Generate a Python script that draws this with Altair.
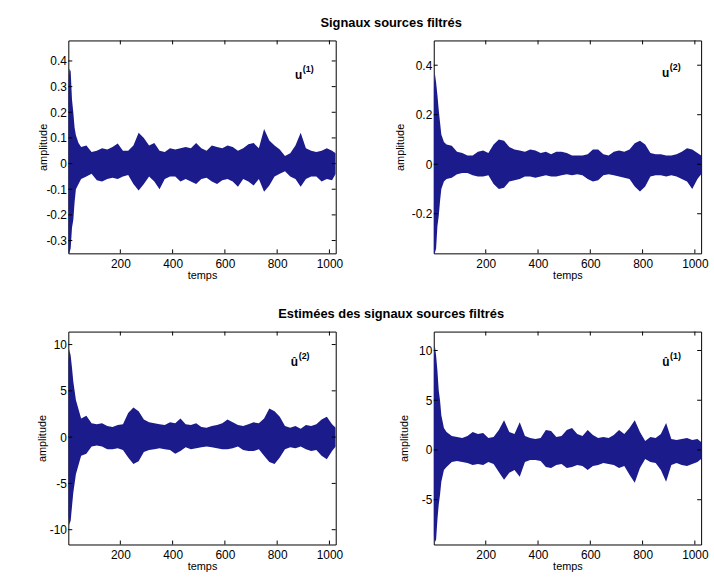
import altair as alt
import pandas as pd

# sample positions (temps) at which the envelope of each signal was read
SAMPLES = [1, 5, 10, 15, 20, 25, 30, 40, 50, 70, 90, 110, 130, 150, 170, 190,
           210, 230, 250, 270, 290, 310, 330, 350, 370, 390, 410, 430, 450, 470,
           490, 510, 530, 550, 570, 590, 610, 630, 650, 670, 690, 710, 730, 750,
           770, 790, 810, 830, 850, 870, 890, 910, 930, 950, 970, 990, 1010, 1024]

# u(1): upper / lower envelope
U1_HI = [0.30, 0.37, 0.36, 0.25, 0.20, 0.14, 0.11, 0.08, 0.065, 0.07, 0.045, 0.05,
         0.06, 0.055, 0.065, 0.078, 0.05, 0.05, 0.07, 0.12, 0.10, 0.07, 0.08, 0.05,
         0.045, 0.06, 0.055, 0.06, 0.065, 0.06, 0.08, 0.06, 0.05, 0.07, 0.065, 0.06,
         0.07, 0.065, 0.05, 0.06, 0.075, 0.08, 0.06, 0.135, 0.09, 0.07, 0.055, 0.03,
         0.04, 0.07, 0.12, 0.06, 0.05, 0.045, 0.05, 0.06, 0.05, 0.04]
U1_LO = [-0.35, -0.35, -0.33, -0.25, -0.22, -0.15, -0.10, -0.08, -0.06, -0.05, -0.04,
         -0.065, -0.07, -0.06, -0.055, -0.06, -0.05, -0.045, -0.08, -0.105, -0.08,
         -0.05, -0.07, -0.10, -0.06, -0.05, -0.05, -0.07, -0.06, -0.07, -0.08, -0.06,
         -0.055, -0.07, -0.08, -0.065, -0.06, -0.07, -0.09, -0.06, -0.07, -0.085,
         -0.06, -0.11, -0.085, -0.05, -0.04, -0.03, -0.05, -0.06, -0.09, -0.06, -0.05,
         -0.05, -0.07, -0.06, -0.065, -0.04]

# u(2)
U2_HI = [0.30, 0.37, 0.33, 0.28, 0.22, 0.17, 0.12, 0.09, 0.08, 0.075, 0.05, 0.045,
         0.035, 0.035, 0.05, 0.055, 0.045, 0.08, 0.10, 0.095, 0.07, 0.06, 0.055, 0.05,
         0.06, 0.055, 0.045, 0.05, 0.04, 0.05, 0.05, 0.045, 0.035, 0.035, 0.035, 0.04,
         0.06, 0.06, 0.04, 0.035, 0.05, 0.055, 0.05, 0.06, 0.085, 0.095, 0.08, 0.045,
         0.04, 0.04, 0.035, 0.035, 0.04, 0.05, 0.065, 0.06, 0.045, 0.035]
U2_LO = [-0.36, -0.36, -0.34, -0.25, -0.21, -0.15, -0.10, -0.07, -0.06, -0.055, -0.04,
         -0.035, -0.035, -0.045, -0.05, -0.05, -0.045, -0.08, -0.10, -0.095, -0.07,
         -0.065, -0.06, -0.05, -0.05, -0.055, -0.05, -0.045, -0.05, -0.05, -0.045,
         -0.04, -0.045, -0.04, -0.045, -0.06, -0.07, -0.065, -0.045, -0.04, -0.045,
         -0.05, -0.055, -0.06, -0.09, -0.11, -0.09, -0.05, -0.045, -0.045, -0.05,
         -0.045, -0.05, -0.06, -0.07, -0.10, -0.06, -0.04]

# estimated û(2)
E2_HI = [8.0, 9.5, 8.8, 7.5, 6.0, 5.0, 4.0, 3.0, 2.0, 2.3, 1.5, 1.4, 1.5, 1.2, 1.1,
         1.3, 1.4, 2.6, 3.2, 2.8, 1.9, 1.6, 1.5, 1.4, 1.3, 1.6, 1.5, 2.0, 1.4, 1.3,
         1.5, 1.1, 1.0, 1.2, 1.3, 1.5, 1.9, 1.6, 1.3, 1.2, 1.4, 1.6, 1.5, 2.0, 3.1,
         2.8, 2.2, 1.2, 1.0, 1.2, 0.9, 1.3, 1.2, 1.4, 1.9, 2.2, 1.4, 1.0]
E2_LO = [-8.5, -9.5, -9.0, -7.5, -6.0, -5.0, -4.0, -3.0, -2.0, -1.8, -1.0, -0.9, -1.0,
         -1.3, -1.3, -1.2, -1.4, -2.2, -2.9, -2.6, -1.6, -1.4, -1.3, -1.2, -1.3, -1.4,
         -1.8, -1.5, -1.1, -1.3, -1.2, -1.1, -1.0, -1.1, -1.2, -1.3, -1.3, -1.2, -1.0,
         -1.4, -1.5, -1.5, -1.3, -2.0, -2.7, -2.9, -2.2, -1.3, -1.1, -1.2, -1.0, -1.3,
         -1.5, -1.4, -2.0, -2.4, -1.5, -1.0]

# estimated û(1)
E1_HI = [9.0, 10.5, 9.5, 8.0, 6.0, 5.0, 3.5, 2.2, 1.8, 1.4, 1.3, 1.2, 1.4, 1.8, 1.6,
         1.7, 1.2, 1.3, 2.0, 3.0, 1.8, 1.6, 2.8, 1.4, 1.2, 1.1, 1.2, 2.0, 1.9, 1.3,
         1.4, 2.0, 2.2, 1.6, 1.4, 2.0, 1.5, 1.2, 1.3, 1.2, 1.5, 2.0, 1.6, 2.2, 3.0,
         1.8, 0.9, 1.3, 1.2, 1.6, 2.7, 1.1, 1.0, 1.1, 1.2, 1.0, 1.1, 0.8]
E1_LO = [-8.5, -9.3, -9.0, -7.0, -5.5, -4.5, -3.2, -2.0, -1.7, -1.2, -1.1, -1.2, -1.3,
         -1.5, -1.4, -1.5, -1.2, -1.4, -2.2, -3.0, -2.3, -2.0, -2.7, -1.2, -1.0, -1.0,
         -1.1, -1.7, -1.8, -1.5, -1.4, -1.8, -1.7, -1.5, -1.6, -2.0, -1.6, -1.5, -1.3,
         -1.4, -1.5, -1.8, -1.6, -2.5, -3.3, -1.8, -0.9, -1.2, -1.3, -2.0, -3.2, -1.5,
         -1.3, -1.5, -1.6, -1.4, -1.2, -0.9]

X_TICKS = [200, 400, 600, 800, 1000]
TL_YTICKS = [-0.3, -0.2, -0.1, 0, 0.1, 0.2, 0.3, 0.4]
TR_YTICKS = [-0.2, 0, 0.2, 0.4]
BL_YTICKS = [-10, -5, 0, 5, 10]
BR_YTICKS = [-5, 0, 5, 10]

TITLE_TOP = "Signaux sources filtrés"
TITLE_BOTTOM = "Estimées des signaux sources filtrés"

INK = "#1b1b8c"
FONT = "Liberation Sans"
W, H = 270, 215
TICK = 4


def panel(hi, lo, ydom, yticks, base, sup, lx, ly, title_x, title=None):
    df = pd.DataFrame({"temps": SAMPLES, "hi": hi, "lo": lo})
    xs = alt.Scale(domain=[1, 1024], nice=False, zero=False)
    ys = alt.Scale(domain=ydom, nice=False, zero=False)
    x_axis = alt.Axis(values=X_TICKS, title="temps", grid=False, ticks=False,
                      domain=False, labelPadding=5, titlePadding=0,
                      labelExpr="datum.value + ''", labelOverlap=False,
                      labelFontSize=12, titleFontSize=11, labelFont=FONT,
                      titleFont=FONT, labelColor="black", titleColor="black",
                      titleFontWeight="normal")
    y_axis = alt.Axis(values=yticks, title="amplitude", grid=False, ticks=False,
                      domain=False, labelPadding=2, labelExpr="datum.value + ''",
                      labelFontSize=12, titleFontSize=11, labelFont=FONT,
                      titleFont=FONT, labelColor="black", titleColor="black",
                      titleFontWeight="normal", titleX=title_x, titleY=H / 2,
                      titleBaseline="middle", labelOverlap=False)
    X = alt.X("temps:Q", scale=xs, axis=x_axis)
    Y = alt.Y("hi:Q", scale=ys, axis=y_axis)
    area = alt.Chart(df).mark_area(color=INK, clip=True, interpolate="linear").encode(
        x=X, y=Y, y2="lo:Q")
    ydf = pd.DataFrame({"hi": yticks})
    xdf = pd.DataFrame({"temps": X_TICKS})
    tl = alt.Chart(ydf).mark_rule(color="black").encode(
        y=Y, x=alt.value(0), x2=alt.value(TICK))
    tr = alt.Chart(ydf).mark_rule(color="black").encode(
        y=Y, x=alt.value(W - TICK), x2=alt.value(W))
    tb = alt.Chart(xdf).mark_rule(color="black").encode(
        x=X, y=alt.value(H - TICK), y2=alt.value(H))
    tt = alt.Chart(xdf).mark_rule(color="black").encode(
        x=X, y=alt.value(0), y2=alt.value(TICK))
    ldf = pd.DataFrame({"temps": [lx], "hi": [ly], "base": [base], "sup": [sup]})
    lab = alt.Chart(ldf).mark_text(
        align="left", baseline="middle", fontWeight="bold", fontSize=12,
        font=FONT, color="black").encode(x=X, y=Y, text="base:N")
    labsup = alt.Chart(ldf).mark_text(
        align="left", baseline="middle", fontWeight="bold", fontSize=9,
        font=FONT, color="black", dx=8, dy=-6).encode(x=X, y=Y, text="sup:N")
    props = dict(width=W, height=H)
    if title:
        props["title"] = alt.TitleParams(
            text=title, anchor="start", frame="group", align="center", dx=326,
            offset=10, fontSize=13, fontWeight="bold", font=FONT, color="black")
    return alt.layer(area, tl, tr, tb, tt, lab, labsup).properties(**props)


p_tl = panel(U1_HI, U1_LO, [-0.35, 0.48], TL_YTICKS, "u", "(1)", 868, 0.345, -25, TITLE_TOP)
p_tr = panel(U2_HI, U2_LO, [-0.36, 0.50], TR_YTICKS, "u", "(2)", 874, 0.37, -34)
p_bl = panel(E2_HI, E2_LO, [-11.6, 11.4], BL_YTICKS, "û", "(2)", 852, 8.1, -26, TITLE_BOTTOM)
p_br = panel(E1_HI, E1_LO, [-9.5, 11.9], BR_YTICKS, "û", "(1)", 875, 8.8, -29)

chart = alt.concat(p_tl, p_tr, p_bl, p_br, columns=2,
                   spacing={"row": 79, "column": 99}, bounds="flush").properties(
    padding={"left": 36, "top": 14, "right": 5, "bottom": 5},
    background="white",
).configure_view(stroke="black", strokeWidth=1)

chart.save("out.html", embed_options={"renderer": "svg", "actions": False})
